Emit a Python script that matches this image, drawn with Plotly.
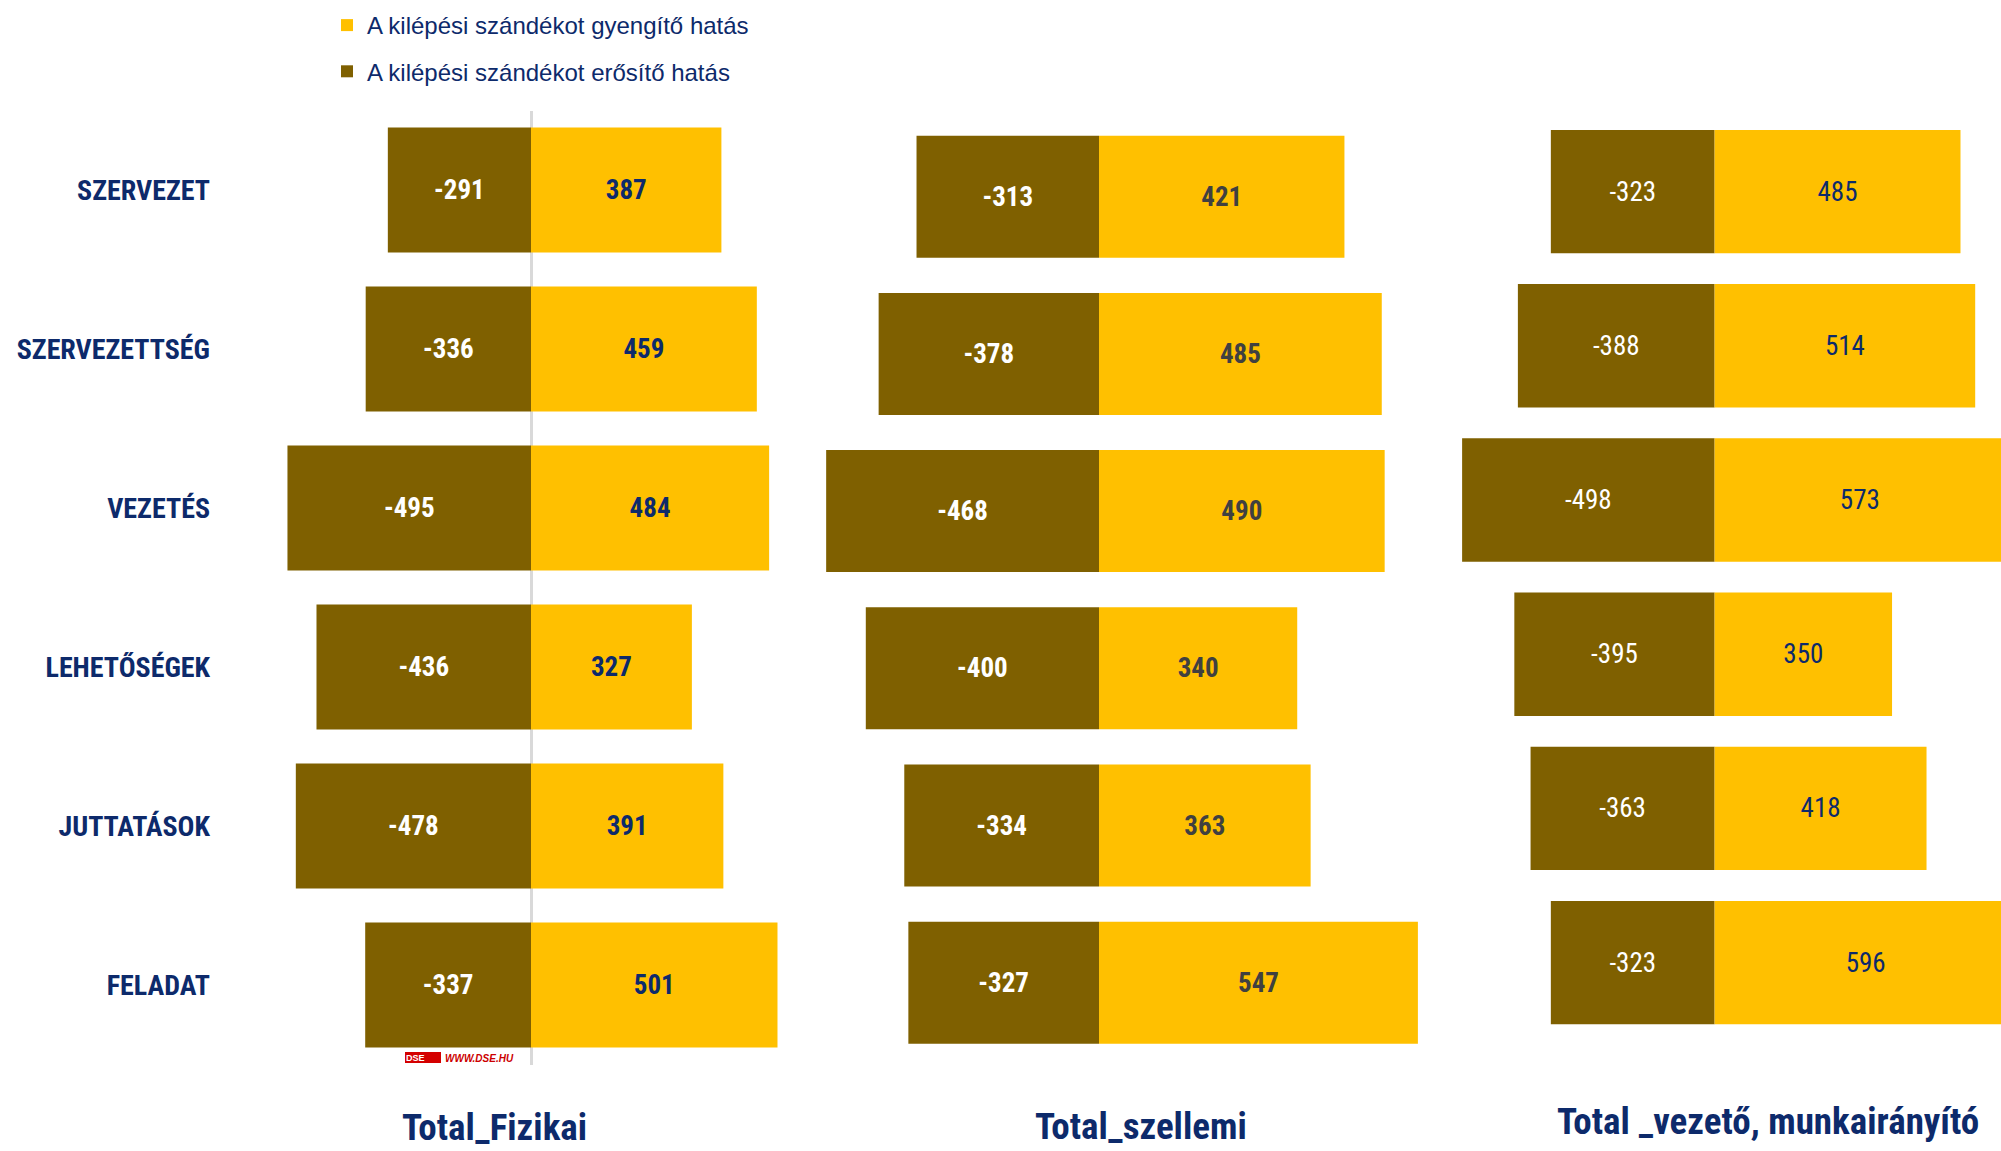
import plotly.graph_objects as go

# ---------------- data ----------------
categories = ["SZERVEZET", "SZERVEZETTSÉG", "VEZETÉS", "LEHETŐSÉGEK", "JUTTATÁSOK", "FELADAT"]
fizikai_erosito = [-291, -336, -495, -436, -478, -337]
fizikai_gyengito = [387, 459, 484, 327, 391, 501]
szellemi_erosito = [-313, -378, -468, -400, -334, -327]
szellemi_gyengito = [421, 485, 490, 340, 363, 547]
vezeto_erosito = [-323, -388, -498, -395, -363, -323]
vezeto_gyengito = [485, 514, 573, 350, 418, 596]
panel_titles = ["Total_Fizikai", "Total_szellemi", "Total _vezető, munkairányító"]
legend_gyengito = "A kilépési szándékot gyengítő hatás"
legend_erosito = "A kilépési szándékot erősítő hatás"

# ---------------- styling / layout ----------------
W, H = 2001, 1151
BROWN = "#7F6000"
YELLOW = "#FFC000"
NAVY = "#0D2A6B"
NARROW = "Liberation Sans Narrow, Arial Narrow, Roboto Condensed, sans-serif"
SANS = "Liberation Sans, Arial, sans-serif"

panels = [
    dict(neg=fizikai_erosito, pos=fizikai_gyengito, dom=(250, 800), zero=531, scale=0.492,
         top=110.5, bot=1064.5, bw=0.787, weight="bold", poscolor=NAVY, zeroline=True),
    dict(neg=szellemi_erosito, pos=szellemi_gyengito, dom=(815, 1440), zero=1099, scale=0.583,
         top=118.1, bot=1061.3, bw=0.776, weight="bold", poscolor="#404040", zeroline=False),
    dict(neg=vezeto_erosito, pos=vezeto_gyengito, dom=(1450, 2001), zero=1714.6, scale=0.507,
         top=114.5, bot=1039.7, bw=0.80, weight="normal", poscolor=NAVY, zeroline=False),
]

fig = go.Figure()
layout = {}
for i, p in enumerate(panels):
    n = "" if i == 0 else str(i + 1)
    xref, yref = "x" + n, "y" + n
    first = i == 0
    fig.add_trace(go.Bar(
        x=p["neg"], y=categories, orientation="h", xaxis=xref, yaxis=yref,
        marker=dict(color=BROWN, line=dict(width=0)), width=p["bw"],
        text=[str(v) for v in p["neg"]], textposition="inside", insidetextanchor="middle",
        textangle=0,
        textfont=dict(family=NARROW, size=27, color="white", weight=p["weight"]),
        name=legend_erosito, showlegend=first, legendgroup="ero", legendrank=2,
        hoverinfo="x+y"))
    fig.add_trace(go.Bar(
        x=p["pos"], y=categories, orientation="h", xaxis=xref, yaxis=yref,
        marker=dict(color=YELLOW, line=dict(width=0)), width=p["bw"],
        text=[str(v) for v in p["pos"]], textposition="inside", insidetextanchor="middle",
        textangle=0,
        textfont=dict(family=NARROW, size=27, color=p["poscolor"], weight=p["weight"]),
        name=legend_gyengito, showlegend=first, legendgroup="gye", legendrank=1,
        hoverinfo="x+y"))
    x0, x1 = p["dom"]
    layout["xaxis" + n] = dict(
        domain=[x0 / W, x1 / W], anchor=yref,
        range=[(x0 - p["zero"]) / p["scale"], (x1 - p["zero"]) / p["scale"]],
        showgrid=False, showticklabels=False, ticks="", showline=False,
        zeroline=p["zeroline"], zerolinecolor="#D9D9D9", zerolinewidth=3,
        layer="above traces", fixedrange=True)
    layout["yaxis" + n] = dict(
        domain=[1 - p["bot"] / H, 1 - p["top"] / H], anchor=xref,
        type="category", categoryorder="array", categoryarray=categories,
        range=[len(categories) - 0.5, -0.5],
        showgrid=False, showline=False, zeroline=False, ticks="",
        showticklabels=first, ticklabelstandoff=39,
        tickfont=dict(family=NARROW, size=28, color=NAVY, weight="bold"),
        fixedrange=True)

title_pos = [(494, 1151, "bottom"), (1141, 1126, "middle"), (1768, 1121, "middle")]
annotations = []
for t, (tx, ty, ya) in zip(panel_titles, title_pos):
    annotations.append(dict(
        text=t, x=tx / W, y=1 - ty / H, xref="paper", yref="paper",
        xanchor="center", yanchor=ya, showarrow=False,
        font=dict(family=NARROW, size=37, color=NAVY, weight="bold")))

# small DSE watermark
annotations.append(dict(text="DSE", x=415 / W, y=1 - 1058 / H, xref="paper", yref="paper",
                        xanchor="center", yanchor="middle", showarrow=False,
                        font=dict(family=SANS, size=9, color="white", weight="bold")))
annotations.append(dict(text="<i>WWW.DSE.HU</i>", x=443 / W, y=1 - 1058 / H, xref="paper",
                        yref="paper", xanchor="left", yanchor="middle", showarrow=False,
                        font=dict(family=SANS, size=10, color="#CC0000", weight="bold")))
shapes = [dict(type="rect", xref="paper", yref="paper",
               x0=405 / W, x1=441 / W, y0=1 - 1063 / H, y1=1 - 1052 / H,
               fillcolor="#D40000", line=dict(width=0), layer="below")]

fig.update_layout(
    width=W, height=H, margin=dict(l=0, r=0, t=0, b=0),
    paper_bgcolor="white", plot_bgcolor="white",
    barmode="relative", showlegend=True,
    legend=dict(x=327 / W, y=1 - 3 / H, xanchor="left", yanchor="top",
                traceorder="grouped", tracegroupgap=12,
                font=dict(family=SANS, size=24, color=NAVY),
                bgcolor="rgba(0,0,0,0)", borderwidth=0),
    annotations=annotations, shapes=shapes,
    **layout)

fig.write_html("out.html", include_plotlyjs=True, config={"displayModeBar": False},
               post_script="document.body.style.margin='0';document.body.style.overflow='hidden';")
